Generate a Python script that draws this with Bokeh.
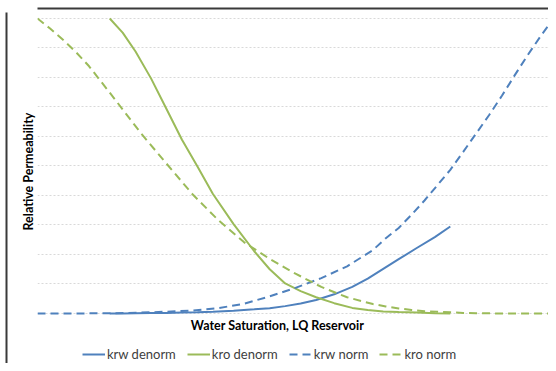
from bokeh.plotting import figure
from bokeh.models import Range1d, FixedTicker, Legend, LegendItem, Title, Label, LinearAxis
from bokeh.embed import file_html
from bokeh.resources import INLINE

# Normalised curves (plotted against water saturation 0..1)
sw_norm = [0.0, 0.025, 0.05, 0.075, 0.10, 0.15, 0.20, 0.25, 0.30, 0.35, 0.40, 0.45, 0.50,
           0.55, 0.60, 0.65, 0.675, 0.70, 0.725, 0.75, 0.775, 0.80, 0.825, 0.85, 0.875,
           0.90, 0.925, 0.95, 0.975, 1.0]
krw_norm = [0.0, 0.0, 0.0, 0.0002, 0.0005, 0.001, 0.003, 0.006, 0.01, 0.018, 0.033, 0.058, 0.087,
            0.12, 0.16, 0.215, 0.255, 0.29, 0.335, 0.383, 0.435, 0.487, 0.548, 0.61, 0.672,
            0.738, 0.808, 0.876, 0.94, 1.0]
kro_norm = [1.0, 0.965, 0.927, 0.885, 0.838, 0.726, 0.612, 0.508, 0.405, 0.317, 0.242, 0.185, 0.135,
            0.09, 0.055, 0.032, 0.024, 0.017, 0.012, 0.008, 0.006, 0.004, 0.002, 0.001, 0.0005,
            0.0, 0.0, 0.0, 0.0, 0.0]

# De-normalised curves (between connate water and residual oil)
sw_denorm = [0.14, 0.165, 0.19, 0.22, 0.25, 0.28, 0.31, 0.34, 0.38, 0.42, 0.45,
             0.48, 0.51, 0.54, 0.575, 0.61, 0.64, 0.67, 0.70, 0.735, 0.77, 0.80]
krw_denorm = [0.0, 0.0003, 0.001, 0.0015, 0.002, 0.003, 0.004, 0.006, 0.009, 0.014, 0.018,
              0.025, 0.034, 0.046, 0.065, 0.09, 0.118, 0.151, 0.184, 0.222, 0.259, 0.295]
kro_denorm = [1.0, 0.952, 0.888, 0.797, 0.693, 0.589, 0.498, 0.405, 0.303, 0.211, 0.15,
              0.102, 0.076, 0.055, 0.035, 0.019, 0.012, 0.007, 0.005, 0.003, 0.001, 0.0]

y_ticks = [0.0, 0.1, 0.2, 0.3, 0.4, 0.5, 0.6, 0.7, 0.8, 0.9, 1.0]

BLUE = "#4f81bd"
GREEN = "#9bbb59"
FONT = "Lato"
BORDER = "#3a3a3a"

p = figure(width=548, height=363, output_backend="svg", toolbar_location=None,
           x_range=Range1d(0, 0.9903), y_range=Range1d(-0.1695, 1.0203),
           min_border_left=37, min_border_right=0, min_border_top=12, min_border_bottom=0)
p.outline_line_color = None
p.background_fill_color = "white"
p.border_fill_color = "white"

p.xgrid.visible = False
p.ygrid.ticker = FixedTicker(ticks=y_ticks)
p.ygrid.grid_line_color = "#d9d9d9"
p.ygrid.grid_line_dash = "2 2"
p.ygrid.grid_line_width = 1
p.xaxis.visible = False
p.yaxis.visible = False


def border_axis():
    # bare axis used only for its rule line (outer chart border)
    ax = LinearAxis(ticker=FixedTicker(ticks=[-5.0]))
    ax.axis_line_color = BORDER
    ax.axis_line_width = 2
    ax.major_tick_line_color = None
    ax.minor_tick_line_color = None
    ax.major_tick_in = 0
    ax.major_tick_out = 0
    ax.minor_tick_in = 0
    ax.minor_tick_out = 0
    ax.major_label_standoff = 0
    ax.axis_label_standoff = 0
    return ax


def spacer_axis(extent):
    # invisible axis that only reserves some space in a side panel
    ax = LinearAxis(ticker=FixedTicker(ticks=[0.5]))
    ax.axis_line_color = None
    ax.major_tick_line_color = None
    ax.minor_tick_line_color = None
    ax.major_tick_in = 0
    ax.major_tick_out = extent
    ax.minor_tick_in = 0
    ax.minor_tick_out = 0
    ax.major_label_standoff = 0
    ax.major_label_text_color = None
    ax.major_label_text_font_size = "1px"
    ax.axis_label_standoff = 0
    return ax


yt = Title(text="Relative Permeability", align="left", offset=133,
           text_font=FONT, text_font_style="bold", text_font_size="12.5px",
           text_color="black", standoff=4)
p.add_layout(yt, "left")
p.add_layout(spacer_axis(10), "left")
p.add_layout(border_axis(), "left")
p.add_layout(spacer_axis(4), "above")
p.add_layout(border_axis(), "above")

r1 = p.line(sw_denorm, krw_denorm, line_color=BLUE, line_width=2)
r2 = p.line(sw_denorm, kro_denorm, line_color=GREEN, line_width=2)
r3 = p.line(sw_norm, krw_norm, line_color=BLUE, line_width=2, line_dash="8 5")
r4 = p.line(sw_norm, kro_norm, line_color=GREEN, line_width=2, line_dash="8 5")

xt = Label(x=0.465, y=-0.0407, text="Water Saturation, LQ Reservoir",
           text_align="center", text_baseline="middle",
           text_font=FONT, text_font_style="bold", text_font_size="12.5px",
           text_color="black")
p.add_layout(xt)

legend = Legend(items=[LegendItem(label="krw denorm", renderers=[r1]),
                       LegendItem(label="kro denorm", renderers=[r2]),
                       LegendItem(label="krw norm", renderers=[r3]),
                       LegendItem(label="kro norm", renderers=[r4])],
                orientation="horizontal", location=(45, 1),
                label_text_font=FONT, label_text_font_size="13px", label_text_color="#404040",
                glyph_width=23, glyph_height=12, label_standoff=2, spacing=11,
                padding=0, margin=0, border_line_color=None, background_fill_alpha=0)
p.add_layout(legend)

open("out.html", "w").write(file_html(p, INLINE))
